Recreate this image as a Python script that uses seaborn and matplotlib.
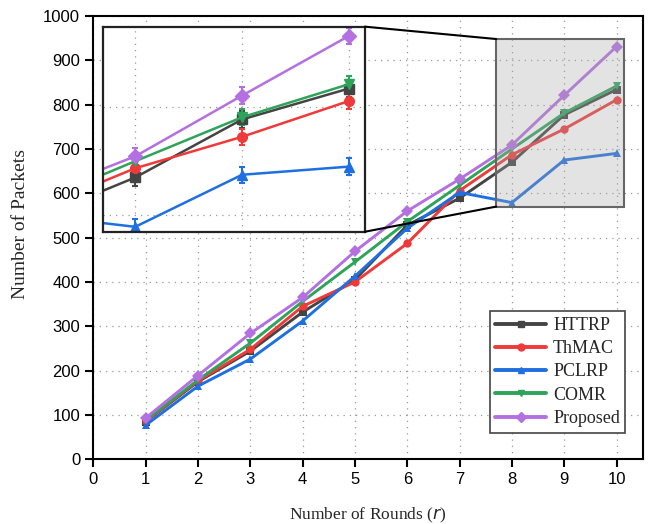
import numpy as np
import pandas as pd
import matplotlib
matplotlib.use("Agg")
import matplotlib.pyplot as plt
import seaborn as sns
from matplotlib.patches import Rectangle, ConnectionPatch

rounds = [1, 2, 3, 4, 5, 6, 7, 8, 9, 10]
httrp = [85, 175, 244, 332, 405, 528, 589, 670, 777, 834]
thmac = [86, 177, 248, 345, 400, 487, 606, 687, 745, 811]
pclrp = [77, 165, 226, 312, 413, 521, 602, 579, 675, 690]
comr = [88, 179, 262, 356, 445, 536, 618, 700, 781, 842]
proposed = [93, 189, 284, 365, 469, 560, 632, 709, 821, 931]
err = [15, 15, 15, 15, 15, 15, 15, 15, 15, 15]

names = ["HTTRP", "ThMAC", "PCLRP", "COMR", "Proposed"]
series = [httrp, thmac, pclrp, comr, proposed]
colors = ["#444444", "#f03a3a", "#1f6fe0", "#2ea35a", "#b470e0"]
markers = ["s", "o", "^", "v", "D"]

df = pd.DataFrame({
    "Round": np.tile(rounds, len(names)),
    "Packets": np.concatenate(series),
    "Method": np.repeat(names, len(rounds)),
})

sns.set_style("ticks")
plt.rcParams["font.family"] = ["Liberation Sans", "DejaVu Sans"]

fig = plt.figure(figsize=(6.49, 5.24), dpi=100)
ax = fig.add_axes([0.1438, 0.1235, 0.8465, 0.846])

sns.lineplot(data=df, x="Round", y="Packets", hue="Method", style="Method",
             palette=dict(zip(names, colors)), markers=dict(zip(names, markers)),
             dashes=False, linewidth=2.1, markersize=6, markeredgewidth=0,
             ax=ax, legend=False, zorder=3)

ax.set_xlim(0, 10.5)
ax.set_ylim(0, 1000)
ax.set_xticks(range(0, 11))
ax.set_yticks(range(0, 1001, 100))
ax.grid(True, linestyle=(0, (1, 4)), color="#999999", linewidth=0.9)
for s in ax.spines.values():
    s.set_linewidth(1.5)
    s.set_color("black")
ax.tick_params(direction="out", length=6, width=1.5, labelsize=12, colors="black")
ax.set_xlabel("Number of Rounds ($r$)", family=["Liberation Serif"], fontsize=12.5,
              labelpad=13)
ax.set_ylabel("Number of Packets", family=["Liberation Serif"], fontsize=14)
ax.yaxis.set_label_coords(-0.117, 0.53)

# shaded zoom rectangle
x0, x1, y0, y1 = 7.7, 10.15, 570, 948
ax.add_patch(Rectangle((x0, y0), x1 - x0, y1 - y0, facecolor="#a8a8a8", alpha=0.32,
                       edgecolor="none", zorder=4))
ax.add_patch(Rectangle((x0, y0), x1 - x0, y1 - y0, facecolor="none",
                       edgecolor="#666666", linewidth=1.5, zorder=5))

# legend
handles = [plt.Line2D([], [], color=c, marker=m, linewidth=2.8, markersize=5)
           for c, m in zip(colors, markers)]
leg = ax.legend(handles, names, loc="lower right", bbox_to_anchor=(0.985, 0.04),
                prop={"family": "Liberation Serif", "size": 13}, fancybox=False,
                framealpha=1, edgecolor="#444444", handlelength=2.8,
                labelspacing=0.35, borderpad=0.3, handletextpad=0.4)
leg.get_frame().set_linewidth(1.2)

# inset
ins = fig.add_axes([0.159, 0.5578, 0.4034, 0.3913])
for name, vals, c, m in zip(names, series, colors, markers):
    ins.errorbar(rounds, vals, yerr=err, color=c, marker=m, markersize=7,
                 linewidth=1.8, elinewidth=1.5, capsize=2.5, capthick=1.5)
ins.set_xlim(x0, x1)
ins.set_ylim(y0, y1)
ins.set_xticks([8, 9, 10])
ins.set_yticks([600, 800])
ins.tick_params(left=False, bottom=False, labelleft=False, labelbottom=False)
ins.grid(True, linestyle=(0, (1, 4)), color="#999999", linewidth=0.9)
for s in ins.spines.values():
    s.set_linewidth(1.6)
    s.set_color("#222222")

for ya_ins, ya_main in [(1, y1), (0, y0)]:
    con = ConnectionPatch(xyA=(1, ya_ins), coordsA=ins.transAxes,
                          xyB=(x0, ya_main), coordsB=ax.transData,
                          color="black", linewidth=1.5)
    fig.add_artist(con)

fig.savefig("out.png", dpi=100)
